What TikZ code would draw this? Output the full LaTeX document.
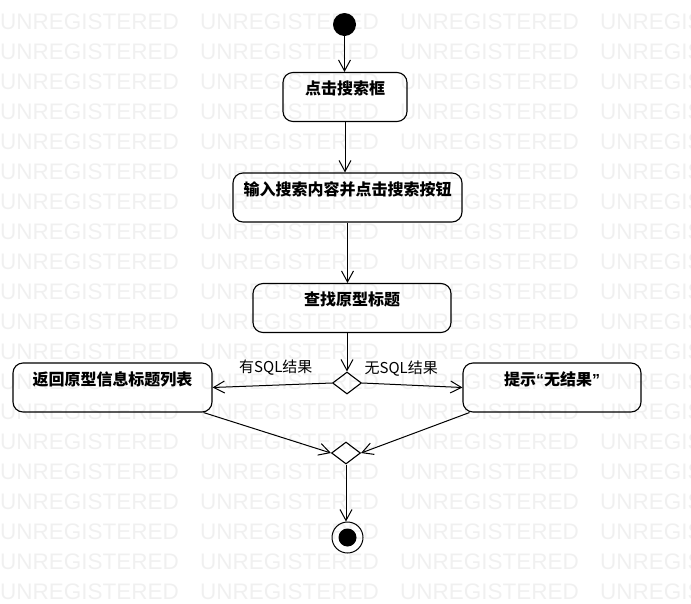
\documentclass[tikz,border=0pt]{standalone}
\usepackage{fontspec}
\setmainfont{Noto Sans CJK SC}
\newfontfamily\wmfont{Liberation Sans}
\usetikzlibrary{arrows.meta, shapes.geometric}

\begin{document}
\begin{tikzpicture}[
  x=1pt, y=-1pt,
  watermark/.style={anchor=base west, inner sep=0pt, text=black!6, font=\wmfont\fontsize{22.5}{22.5}\selectfont},
  activity/.style={rectangle, rounded corners=10pt, draw, line width=1.1pt, minimum height=49pt, inner ysep=5pt, text height=17pt, text depth=22pt, font=\fontsize{16}{18}\selectfont\bfseries},
  startnode/.style={circle, fill=black, minimum size=23pt, inner sep=0pt},
  endnode/.style={circle, draw, line width=1pt, minimum size=31pt, inner sep=0pt, path picture={\fill[black] (path picture bounding box.center) circle (9pt);}},
  decision/.style={diamond, draw, line width=1.1pt, minimum width=29pt, minimum height=22pt, inner sep=0pt},
  guard/.style={font=\fontsize{15}{17}\selectfont, inner sep=1pt},
  flow/.style={-{Straight Barb[length=11pt, width=12pt]}, line width=1pt}
]

\useasboundingbox (0,0) rectangle (691,603);

\foreach \r in {0,...,19}{
  \foreach \c in {0,...,3}{
    \node[watermark] (wm\r\c) at (\c*200, 29+\r*30) {UNREGISTERED};
  }
}

\node[startnode] (start) at (344.5, 24.5) {};
\node[activity, minimum width=124pt] (click) at (345, 97) {点击搜索框};
\node[activity, minimum width=229pt] (input) at (347.5, 197.5) {输入搜索内容并点击搜索按钮};
\node[activity, minimum width=198pt] (query) at (352, 308) {查找原型标题};
\node[decision] (d1) at (347, 383) {};
\node[activity, minimum width=199pt] (list) at (112.5, 387.5) {返回原型信息标题列表};
\node[activity, minimum width=178pt] (hint) at (552, 387.5) {提示{\wmfont“}无结果{\wmfont”}};
\node[decision] (d2) at (346, 453) {};
\node[endnode] (final) at (347.5, 537.5) {};

\draw[flow] (start) -- (start |- click.north);
\draw[flow] (click.south) -- (click.south |- input.north);
\draw[flow] (input.south) -- (input.south |- query.north);
\draw[flow] (d1.north |- query.south) -- (d1.north);

\draw[flow] (d1.west) -- node[guard, pos=0.47, above=8pt] (yes) {有SQL结果} (list.east);
\draw[flow] (d1.east) -- node[guard, pos=0.39, above=7pt] (no) {无SQL结果} (hint.west);

\draw[flow] ([xshift=-9pt]list.south east) -- (d2.west);
\draw[flow] ([xshift=7pt]hint.south west) -- (d2.east);
\draw[flow] (d2.south) -- (d2.south |- final.north);

\end{tikzpicture}
\end{document}
